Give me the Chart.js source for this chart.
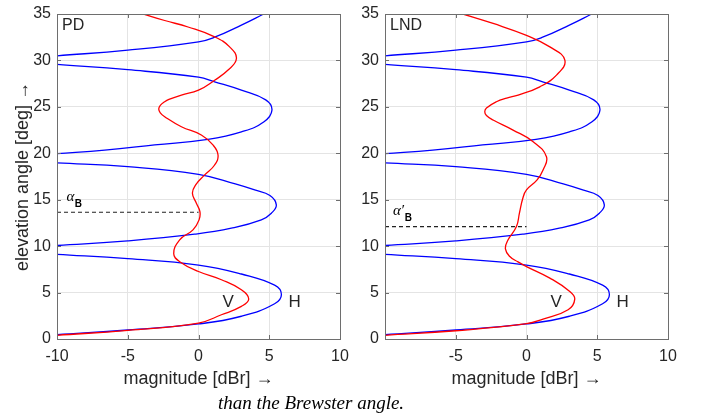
<!DOCTYPE html>
<html>
<head>
<meta charset="utf-8">
<title>PD / LND</title>
<script src="https://cdn.jsdelivr.net/npm/chart.js@4.4.1/dist/chart.umd.min.js"></script>
<style>
  html,body{margin:0;padding:0;background:#fff}
  body{width:706px;height:417px;position:relative;overflow:hidden}
  canvas{position:absolute;top:0}
  #c1{left:0}
  #c2{left:330px}
  #caption{position:absolute;left:218px;top:392px;font:italic 19px/22px "Liberation Serif","Times New Roman",serif;color:#000;white-space:nowrap}
</style>
</head>
<body>
<canvas id="c1" width="350" height="395"></canvas>
<canvas id="c2" width="350" height="395"></canvas>
<div id="caption">than the Brewster angle.</div>
<script>
// magnitude [dBr] (x) against elevation angle [deg] (y)

// H curve - looks the same in PD and LND; null = lobe leaves the plot to the left
const hAngle = [0.46,0.97,1.62,2.45,3.8,4.8,5.8,7.0,7.96,8.65,9.12, null,
  10.07,10.57,11.29,11.93,12.83,13.55,14.44,15.45,16.05,16.7,17.74,18.56,18.96, null,
  19.96,20.35,20.9,21.5,22.3,23.4,24.65,25.75,26.8,27.7,28.2,29.0,29.57, null,
  30.5,31.1,32.0,32.5,33.8,35.05];
const hMag = [-10,-5,0,3.03,5.38,5.86,5.38,3.03,0,-5,-10, null,
  -10,-5,-0.27,2.32,4.44,5.15,5.5,5.05,3.97,2.6,0,-5,-10, null,
  -10,-6.63,-3.1,0.67,3.03,4.63,5.19,4.75,3.03,1.14,0,-5,-10, null,
  -10,-5,0,1.14,3.03,4.68];

// V curve, PD panel
const vPDAngle = [0.4,0.93,1.72,2.61,3.51,4.3,5.3,6.38,7.27,8.3,9.17,10.68,11.75,12.83,13.72,14.62,15.7,16.6,17.67,18.74,
  19.82,20.9,21.97,22.86,23.94,24.36,24.76,25.16,25.55,25.8,26.27,26.8,27.87,28.96,30.2,31.46,32.54,33.6,34.3,35.05];
const vPDMag = [-10,-5,0,1.62,3.03,3.55,3.03,1.62,0,-1.3,-1.75,-1.33,-0.39,0.04,0.1,-0.15,-0.43,-0.2,0.44,1.14,
  1.38,1.02,0.2,-1.21,-2.39,-2.7,-2.81,-2.7,-2.39,-2.09,-1.21,0,1.14,2.09,2.68,2.2,1.14,-0.74,-2.39,-4.0];

// V curve, LND panel
const vLNDAngle = [0.4,0.89,1.65,2.15,3.15,4.3,5.12,6.56,7.8,8.3,8.88,9.7,10.68,12.11,13.55,15.16,16.05,17.13,18.2,
  19.63,21.25,22.5,23.58,24.07,24.47,24.87,25.55,25.95,26.27,27.16,28.42,30.03,31.46,32.7,33.98,35.05];
const vLNDMag = [-10,-5,0,1.17,2.94,3.41,3.06,1.65,0,-0.6,-1.18,-1.49,-1.3,-0.71,-0.5,-0.26,0,0.75,1.17,
  1.41,0.47,-0.95,-2.36,-2.83,-2.95,-2.83,-2.13,-1.4,-0.59,0.94,2.12,2.71,1.65,0,-2.36,-4.61];

// Brewster angle marks (dashed, from -10 to 0 dBr)
const brewsterPD = 13.65;
const brewsterLND = 12.1;

const INK = '#262626';
const SANS = '"Liberation Sans", Arial, sans-serif';

function pts(ang, mag){ return ang.map((a,i)=>({x: mag[i], y: a})); }

// box, inward ticks and text labels (MATLAB look)
const framePlugin = {
  id:'frame',
  afterDraw(chart, args, o){
    const {ctx, chartArea:a, scales:{x, y}} = chart;
    ctx.save();
    ctx.strokeStyle = '#6e6e6e'; ctx.lineWidth = 1;
    ctx.strokeRect(a.left+0.5, a.top+0.5, a.width, a.height);
    ctx.beginPath();
    x.ticks.forEach(t=>{ const p = Math.round(x.getPixelForValue(t.value))+0.5;
      ctx.moveTo(p, a.bottom); ctx.lineTo(p, a.bottom-4); ctx.moveTo(p, a.top); ctx.lineTo(p, a.top+4); });
    y.ticks.forEach(t=>{ const p = Math.round(y.getPixelForValue(t.value))+0.5;
      ctx.moveTo(a.left, p); ctx.lineTo(a.left+4, p); ctx.moveTo(a.right, p); ctx.lineTo(a.right-4, p); });
    ctx.stroke();

    ctx.fillStyle = INK; ctx.textAlign = 'left'; ctx.textBaseline = 'alphabetic';
    ctx.font = '16px ' + SANS;
    ctx.fillText(o.panel, a.left+5, a.top+15.5);
    ctx.font = '17px ' + SANS;
    ctx.fillText('V', x.getPixelForValue(1.7), y.getPixelForValue(3.5));
    ctx.fillText('H', x.getPixelForValue(6.36), y.getPixelForValue(3.5));

    // alpha_B label above the dashed line
    const by = y.getPixelForValue(o.brewster);
    ctx.fillStyle = '#000';
    ctx.font = 'italic 15px "Liberation Serif", serif';
    const ax = a.left + o.alphaX;
    ctx.fillText(o.alpha, ax, by-11.6);
    const w = ctx.measureText(o.alpha).width;
    ctx.font = 'bold 10px ' + SANS;
    ctx.fillText('B', ax + w + 0.5, by-5.6);
    ctx.restore();
  }
};

function curve(data, color, order){
  return { data, borderColor:color, borderWidth:1.3, showLine:true, pointRadius:0,
    tension:0.45, cubicInterpolationMode:'default', fill:false, clip:0, order };
}

function makeChart(id, o){
  return new Chart(document.getElementById(id), {
    type:'scatter',
    data:{ datasets:[
      curve(pts(o.vAngle, o.vMag), '#ff0000', 0),
      curve(pts(hAngle, hMag), '#0000ff', 1),
      { data: [{x:-10, y:o.brewster},{x:0, y:o.brewster}], borderColor:'#222', borderWidth:1.1, borderDash:[4,3],
        showLine:true, pointRadius:0, tension:0, order:2 }
    ]},
    options:{
      responsive:false, animation:false,
      elements:{ line:{ tension:0.45 } },
      layout:{ padding:{ top:14, right:o.padRight, left:0, bottom:0 } },
      plugins:{
        legend:{display:false}, tooltip:{enabled:false},
        frame:{ panel:o.panel, alpha:o.alpha, alphaX:o.alphaX, brewster:o.brewster }
      },
      scales:{
        x:{
          type:'linear', min:-10, max:10,
          ticks:{ stepSize:5, autoSkip:false, maxRotation:0, padding:7.5, color:INK, font:{family:SANS, size:16},
            callback: v => (o.hideFirstX && v === -10) ? '' : v },
          grid:{ color:'#e4e4e4', drawTicks:false },
          border:{ display:false },
          title:{ display:true, text:'magnitude [dBr] \u2192', color:INK, font:{family:SANS, size:18}, padding:{top:0, bottom:5.5} },
          afterFit(s){ s.height = 56; s.paddingLeft = 0; s.paddingRight = 0; }
        },
        y:{
          type:'linear', min:0, max:35,
          ticks:{ stepSize:5, autoSkip:false, padding:6, color:INK, font:{family:SANS, size:16} },
          grid:{ color:'#e4e4e4', drawTicks:false },
          border:{ display:false },
          title:{ display:o.yTitle, text:'elevation angle [deg] \u2192', color:INK, font:{family:SANS, size:18}, padding:{top:12, bottom:0} },
          afterFit(s){ s.width = o.yWidth; s.paddingTop = 0; s.paddingBottom = 0; }
        }
      }
    },
    plugins:[framePlugin]
  });
}

makeChart('c1', { panel:'PD', vAngle:vPDAngle, vMag:vPDMag, brewster:brewsterPD, alpha:'\u03b1', alphaX:9.5,
  yTitle:true, yWidth:57, padRight:10, hideFirstX:false });
makeChart('c2', { panel:'LND', vAngle:vLNDAngle, vMag:vLNDMag, brewster:brewsterLND, alpha:'\u03b1\u2032', alphaX:8,
  yTitle:false, yWidth:55, padRight:12, hideFirstX:true });
</script>
</body>
</html>
